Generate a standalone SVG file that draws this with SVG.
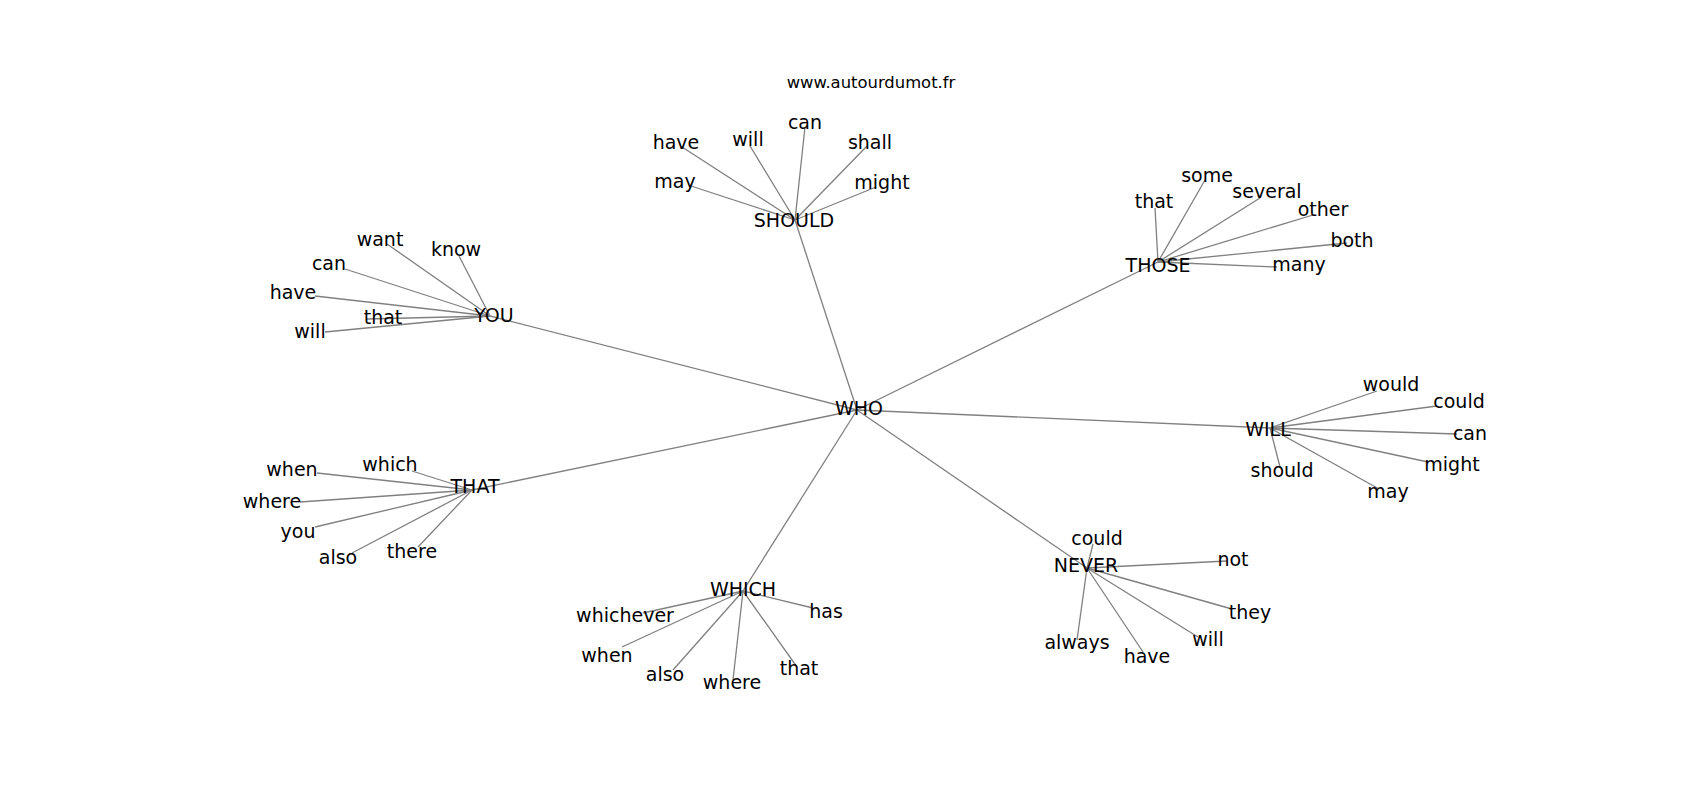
<svg xmlns="http://www.w3.org/2000/svg" width="1700" height="800" viewBox="0 0 1700 800">
<style>
text{font-family:"DejaVu Sans","Liberation Sans",sans-serif;font-size:19px;fill:#000;text-anchor:middle}
.t{font-size:16.4px}
line{stroke:#808080;stroke-width:1.3}
</style>
<rect width="1700" height="800" fill="#fff"/>
<text class="t" x="871" y="88">www.autourdumot.fr</text>
<g id="edges">
<line x1="857" y1="410" x2="795" y2="220"/>
<line x1="857" y1="410" x2="490" y2="316"/>
<line x1="857" y1="410" x2="1158" y2="262"/>
<line x1="857" y1="410" x2="472" y2="490"/>
<line x1="857" y1="410" x2="1270" y2="428"/>
<line x1="857" y1="410" x2="743" y2="591"/>
<line x1="857" y1="410" x2="1087" y2="568"/>
<line x1="795" y1="220" x2="805" y2="127"/>
<line x1="795" y1="220" x2="682" y2="147"/>
<line x1="795" y1="220" x2="750" y2="146"/>
<line x1="795" y1="220" x2="867" y2="146"/>
<line x1="795" y1="220" x2="691" y2="186"/>
<line x1="795" y1="220" x2="876" y2="187"/>
<line x1="490" y1="316" x2="387" y2="244"/>
<line x1="490" y1="316" x2="459" y2="256"/>
<line x1="490" y1="316" x2="345" y2="269"/>
<line x1="490" y1="316" x2="315" y2="296"/>
<line x1="490" y1="316" x2="367" y2="319"/>
<line x1="490" y1="316" x2="325" y2="332"/>
<line x1="1158" y1="262" x2="1155" y2="208"/>
<line x1="1158" y1="262" x2="1205" y2="180"/>
<line x1="1158" y1="262" x2="1260" y2="198"/>
<line x1="1158" y1="262" x2="1313" y2="215"/>
<line x1="1158" y1="262" x2="1347" y2="243"/>
<line x1="1158" y1="262" x2="1277" y2="267"/>
<line x1="472" y1="490" x2="412" y2="471"/>
<line x1="472" y1="490" x2="317" y2="473"/>
<line x1="472" y1="490" x2="300" y2="502"/>
<line x1="472" y1="490" x2="315" y2="527"/>
<line x1="472" y1="490" x2="352" y2="553"/>
<line x1="472" y1="490" x2="418" y2="547"/>
<line x1="1270" y1="428" x2="1377" y2="391"/>
<line x1="1270" y1="428" x2="1437" y2="406"/>
<line x1="1270" y1="428" x2="1457" y2="434"/>
<line x1="1270" y1="428" x2="1428" y2="462"/>
<line x1="1270" y1="428" x2="1280" y2="467"/>
<line x1="1270" y1="428" x2="1379" y2="489"/>
<line x1="743" y1="591" x2="643" y2="613"/>
<line x1="743" y1="591" x2="813" y2="608"/>
<line x1="743" y1="591" x2="622" y2="647"/>
<line x1="743" y1="591" x2="673" y2="670"/>
<line x1="743" y1="591" x2="733" y2="680"/>
<line x1="743" y1="591" x2="797" y2="667"/>
<line x1="1087" y1="568" x2="1093" y2="544"/>
<line x1="1087" y1="568" x2="1227" y2="561"/>
<line x1="1087" y1="568" x2="1232" y2="609"/>
<line x1="1087" y1="568" x2="1198" y2="637"/>
<line x1="1087" y1="568" x2="1077" y2="640"/>
<line x1="1087" y1="568" x2="1143" y2="652"/>
</g>
<g id="WHO"><text x="859" y="415">WHO</text></g>
<g id="SHOULD"><text x="794" y="227">SHOULD</text>
<text x="805" y="129">can</text><text x="676" y="149">have</text><text x="748" y="146">will</text><text x="870" y="149">shall</text><text x="675" y="188">may</text><text x="882" y="189">might</text></g>
<g id="YOU"><text x="494" y="322">YOU</text>
<text x="380" y="246">want</text><text x="456" y="256">know</text><text x="329" y="270">can</text><text x="293" y="299">have</text><text x="383" y="324">that</text><text x="310" y="338">will</text></g>
<g id="THOSE"><text x="1158" y="272">THOSE</text>
<text x="1154" y="208">that</text><text x="1207" y="182">some</text><text x="1267" y="198">several</text><text x="1323" y="216">other</text><text x="1352" y="247">both</text><text x="1299" y="271">many</text></g>
<g id="THAT"><text x="475" y="493">THAT</text>
<text x="390" y="471">which</text><text x="292" y="476">when</text><text x="272" y="508">where</text><text x="298" y="538">you</text><text x="338" y="564">also</text><text x="412" y="558">there</text></g>
<g id="WILL"><text x="1268" y="436">WILL</text>
<text x="1391" y="391">would</text><text x="1459" y="408">could</text><text x="1470" y="440">can</text><text x="1452" y="471">might</text><text x="1282" y="477">should</text><text x="1388" y="498">may</text></g>
<g id="WHICH"><text x="743" y="596">WHICH</text>
<text x="625" y="622">whichever</text><text x="826" y="618">has</text><text x="607" y="662">when</text><text x="665" y="681">also</text><text x="732" y="689">where</text><text x="799" y="675">that</text></g>
<g id="NEVER"><text x="1086" y="572">NEVER</text>
<text x="1097" y="545">could</text><text x="1233" y="566">not</text><text x="1250" y="619">they</text><text x="1208" y="646">will</text><text x="1077" y="649">always</text><text x="1147" y="663">have</text></g>
</svg>
